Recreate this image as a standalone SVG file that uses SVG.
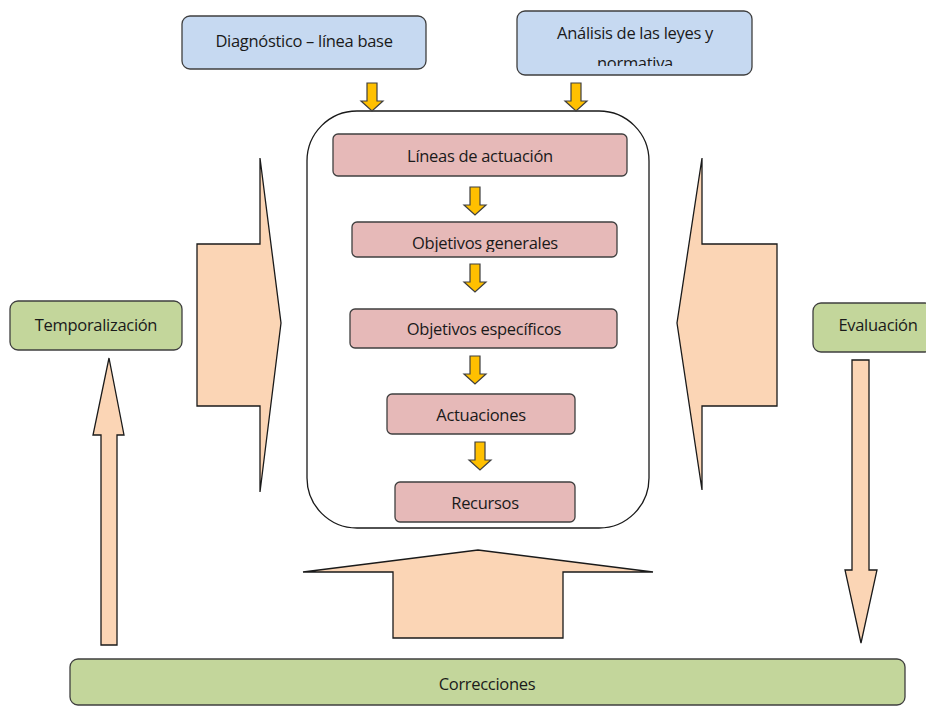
<svg xmlns="http://www.w3.org/2000/svg" width="926" height="706" viewBox="0 0 926 706">
<style>
text{font-family:"Open Sans","Noto Sans","Liberation Sans",sans-serif;font-size:16.5px;fill:#1a1a1a;text-anchor:middle;letter-spacing:-0.3px}
.blue{fill:#c6d9f1;stroke:#3f3f3f;stroke-width:1.3}
.green{fill:#c3d69b;stroke:#3f3f3f;stroke-width:1.3}
.pink{fill:#e6b9b8;stroke:#3f3f3f;stroke-width:1.3}
.peach{fill:#fbd5b5;stroke:#1a1a1a;stroke-width:1.3;stroke-linejoin:miter}
.yel{fill:#ffc000;stroke:#3f3f3f;stroke-width:1.2}
.cont{fill:#fff;stroke:#1a1a1a;stroke-width:1.3}
</style>
<defs>
<clipPath id="clipAn"><rect x="517" y="11" width="236" height="55"/></clipPath>
<clipPath id="clipOg"><rect x="352" y="222" width="266" height="30"/></clipPath>
<path id="ya" d="M-5,0 H5 V18 H11 L0,28 L-11,18 H-5 Z"/>
</defs>
<rect width="926" height="706" fill="#fff"/>
<g id="container"><rect class="cont" x="307" y="111" width="342" height="417" rx="50"/></g>
<g id="connectors">
<use href="#ya" class="yel" x="372" y="83"/>
<use href="#ya" class="yel" x="576" y="83"/>
<use href="#ya" class="yel" x="475" y="187"/>
<use href="#ya" class="yel" x="475" y="264"/>
<use href="#ya" class="yel" x="475" y="356"/>
<use href="#ya" class="yel" x="480" y="442"/>
<path class="peach" d="M197,244 H260 V158 L281,323 L260,492 V406 H197 Z"/>
<path class="peach" d="M777,244 H702 V158 L677,323 L702,490 V406 H777 Z"/>
<path class="peach" d="M393,638 V572 H303 L478,550 L653,572 H563 V638 Z"/>
<path class="peach" stroke="#404040" d="M101,645 V435 H93 L109,358 L124,435 H117 V645 Z"/>
<path class="peach" stroke="#404040" d="M852,360 H869 V570 H877 L861,643 L845,570 H852 Z"/>
</g>
<g id="diagnostico"><rect class="blue" x="182" y="16" width="244" height="53" rx="8"/><text x="304" y="47">Diagnóstico – línea base</text></g>
<g id="analisis"><rect class="blue" x="517" y="11" width="235" height="64" rx="8"/><text x="635" y="39">Análisis de las leyes y</text><text x="635" y="69" clip-path="url(#clipAn)">normativa</text></g>
<g id="lineas"><rect class="pink" x="333" y="134" width="294" height="42" rx="5"/><text x="480" y="162">Líneas de actuación</text></g>
<g id="objgen"><rect class="pink" x="352" y="222" width="265" height="35" rx="5"/><text x="485" y="249" clip-path="url(#clipOg)">Objetivos generales</text></g>
<g id="objesp"><rect class="pink" x="350" y="309" width="267" height="39" rx="5"/><text x="484" y="335">Objetivos específicos</text></g>
<g id="actuaciones"><rect class="pink" x="387" y="394" width="188" height="40" rx="5"/><text x="481" y="421">Actuaciones</text></g>
<g id="recursos"><rect class="pink" x="395" y="482" width="180" height="40" rx="5"/><text x="485" y="509">Recursos</text></g>
<g id="temporalizacion"><rect class="green" x="10" y="301" width="172" height="49" rx="8"/><text x="96" y="331">Temporalización</text></g>
<g id="evaluacion"><rect class="green" x="813" y="303" width="120" height="49" rx="8"/><text x="878" y="331">Evaluación</text></g>
<g id="correcciones"><rect class="green" x="70" y="659" width="835" height="46" rx="8"/><text x="487" y="690">Correcciones</text></g>
</svg>
